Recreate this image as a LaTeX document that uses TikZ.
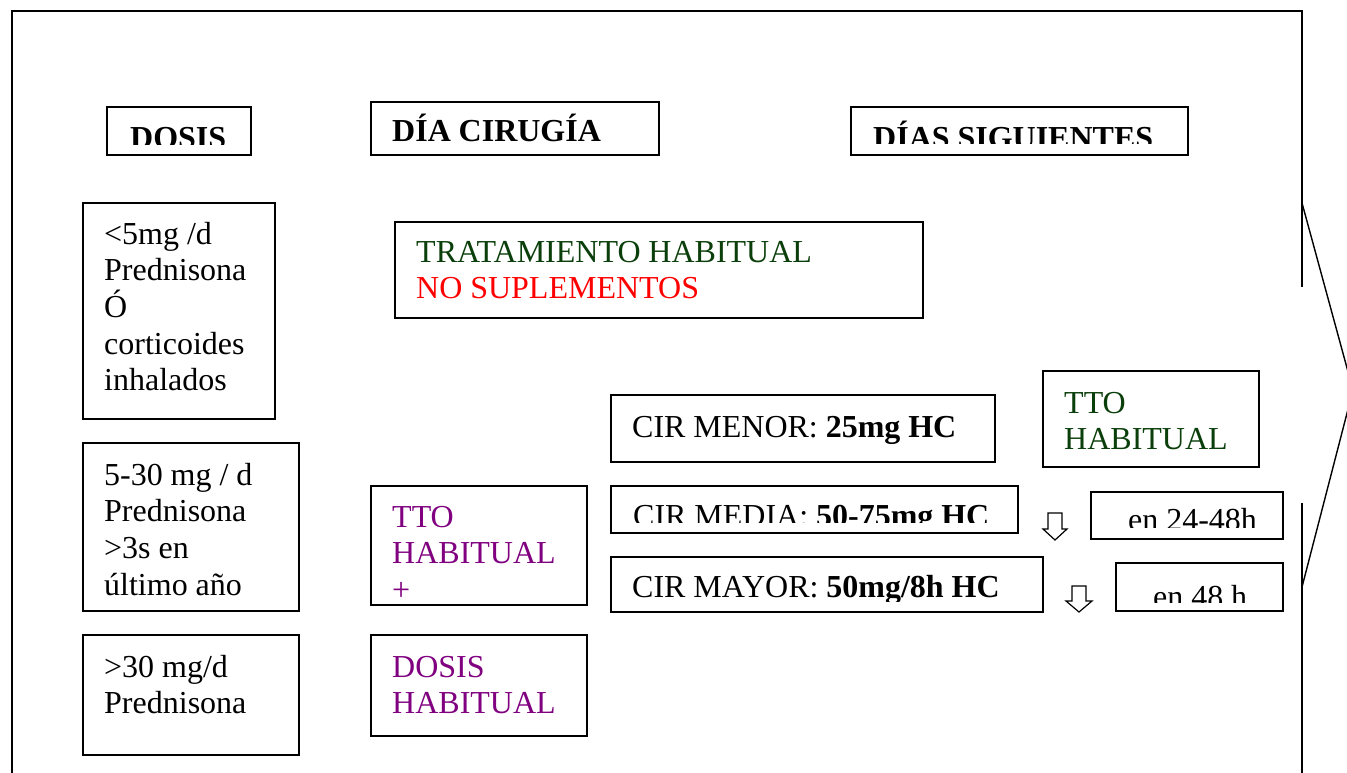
\documentclass[tikz,border=0pt]{standalone}
\usepackage{fontspec}
\setmainfont{Liberation Serif}
\frenchspacing
\definecolor{txtgreen}{RGB}{10,62,10}
\definecolor{txtpurple}{RGB}{128,0,128}
\definecolor{txtred}{RGB}{255,0,0}
\newcommand{\bodyfont}{\fontsize{32}{36.7}\selectfont}

\begin{document}
\begin{tikzpicture}[x=1pt,y=-1pt,
  box/.style={draw, line width=1.5pt, inner sep=0pt},
  txt/.style={anchor=base west, inner sep=0pt, font=\bodyfont, text width=#1,
    execute at begin node={\spaceskip=7.9pt plus 0pt minus 0pt\xspaceskip=7.9pt\relax}},
  txt/.default=420pt,
  frame/.style={line width=1.5pt},
  hollow/.style={draw, line width=1.2pt, fill=white, line join=miter}]

\clip (0,0) rectangle (1347,772);
\fill[white] (0,0) rectangle (1347,772);

% outer frame, open at the bottom
\draw[frame] (12,780) -- (12,11) -- (1302,11) -- (1302,287);
\draw[frame] (1302,503) -- (1302,780);
\draw[line width=2.6pt] (1302,203) -- (1302,287) (1302,503) -- (1302,587);
\draw[line width=1.4pt, line join=miter] (1302,203) -- (1353,390) -- (1302,587);

% column headers
\node[box, minimum width=144pt, minimum height=48pt] (hdose) at (179,131) {};
\node[box, minimum width=288pt, minimum height=53pt] (hday) at (515,128.5) {};
\node[box, minimum width=337pt, minimum height=48pt] (hnext) at (1019.5,131) {};
\begin{scope}
  \clip (108,108) rectangle (250,144);
  \node[txt, font=\bodyfont\bfseries] (thdose) at (130,148) {DOSIS};
\end{scope}
\node[txt, font=\bodyfont\bfseries] (thday) at (392,141) {DÍA CIRUGÍA};
\begin{scope}
  \clip (852,108) rectangle (1187,143);
  \node[txt, font=\bodyfont\bfseries] (thnext) at (873,148) {DÍAS SIGUIENTES};
\end{scope}

% dose groups
\node[box, minimum width=192pt, minimum height=216pt] (low) at (179,311) {};
\node[box, minimum width=216pt, minimum height=168pt] (mid) at (191,527) {};
\node[box, minimum width=216pt, minimum height=120pt] (high) at (191,695) {};
\node[txt=170pt] (tlow) at (104,244) {<5mg /d\\Prednisona\\Ó\\corticoides\\inhalados};
\node[txt=190pt] (tmid) at (104,485) {5-30 mg / d\\Prednisona\\>3s en\\último año};
\node[txt=190pt] (thigh) at (104,677) {>30 mg/d\\Prednisona};

% day of surgery
\node[box, minimum width=528pt, minimum height=96pt] (usual) at (659,270) {};
\node[txt] (tusual) at (416,262) {\textcolor{txtgreen}{TRATAMIENTO HABITUAL}\\\textcolor{txtred}{NO SUPLEMENTOS}};
\node[box, minimum width=216pt, minimum height=119pt] (ttoplus) at (479,545.5) {};
\node[txt=190pt, text=txtpurple] (tttoplus) at (392,527) {TTO\\HABITUAL\\+};
\node[box, minimum width=216pt, minimum height=101pt] (usualdose) at (479,685.5) {};
\node[txt=190pt, text=txtpurple] (tusualdose) at (392,677) {DOSIS\\HABITUAL};

% surgery types
\node[box, minimum width=384pt, minimum height=67pt] (minor) at (803,428.5) {};
\node[txt] (tminor) at (632,437) {CIR MENOR: \textbf{25mg HC}};
\node[box, minimum width=407pt, minimum height=47pt] (medium) at (814.5,509.5) {};
\begin{scope}
  \clip (612,487) rectangle (1017,522);
  \node[txt] (tmedium) at (633,526) {CIR MEDIA: \textbf{50-75mg HC}};
\end{scope}
\node[box, minimum width=432pt, minimum height=55pt] (major) at (827,584.5) {};
\begin{scope}
  \clip (612,558) rectangle (1042,601);
  \node[txt] (tmajor) at (632,597) {CIR MAYOR: \textbf{50mg/8h HC}};
\end{scope}

% following days
\node[box, minimum width=216pt, minimum height=96pt] (ttogreen) at (1151,419) {};
\node[txt=190pt, text=txtgreen] (tttogreen) at (1064,413) {TTO\\HABITUAL};
\node[box, minimum width=192pt, minimum height=47pt] (in2448) at (1187,515.5) {};
\begin{scope}
  \clip (1092,493) rectangle (1282,527);
  \node[txt] (tin2448) at (1128,530) {en 24-48h};
\end{scope}
\node[box, minimum width=167pt, minimum height=48pt] (in48) at (1199.5,587) {};
\begin{scope}
  \clip (1117,564) rectangle (1282,602);
  \node[txt] (tin48) at (1153,607) {en 48 h};
\end{scope}

% hollow down arrows
\draw[hollow] (1048,513) -- (1062,513) -- (1062,529) -- (1067,529) -- (1055,540)
  -- (1043,529) -- (1048,529) -- cycle;
\draw[hollow] (1072,586) -- (1086,586) -- (1086,601) -- (1092,601) -- (1079,612)
  -- (1066,601) -- (1072,601) -- cycle;

\end{tikzpicture}
\end{document}
